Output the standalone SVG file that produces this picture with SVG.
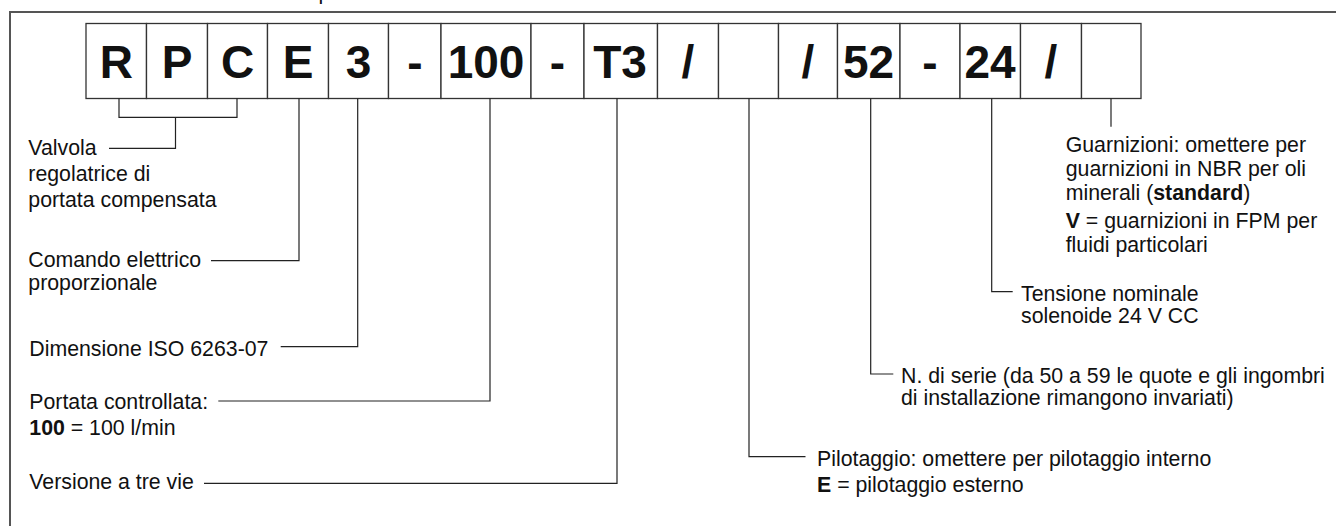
<svg xmlns="http://www.w3.org/2000/svg" width="1336" height="526" viewBox="0 0 1336 526">
<style>
.frame{fill:none;stroke:#555;stroke-width:2}
.cell{fill:#fff;stroke:#333;stroke-width:1.3}
.code{font-family:"Liberation Sans",Arial,sans-serif;font-weight:bold;font-size:46px;fill:#111;text-anchor:middle}
.lbl{font-family:"Liberation Sans",Arial,sans-serif;font-size:21.3px;fill:#111}
.b{font-weight:bold}
.conn{fill:none;stroke:#222;stroke-width:1.2}
</style>
<rect width="1336" height="526" fill="#fff"/>
<text class="lbl" x="318.5" y="-1">p</text>
<path class="frame" d="M10,530 V12 H1340"/>
<g id="code">
<g id="cell-R"><rect class="cell" x="86" y="23.5" width="60.5" height="75"/><text class="code" x="116.3" y="78">R</text></g>
<g id="cell-P"><rect class="cell" x="146.5" y="23.5" width="61" height="75"/><text class="code" x="177" y="78">P</text></g>
<g id="cell-C"><rect class="cell" x="207.5" y="23.5" width="60" height="75"/><text class="code" x="237.5" y="78">C</text></g>
<g id="cell-E"><rect class="cell" x="267.5" y="23.5" width="61" height="75"/><text class="code" x="298" y="78">E</text></g>
<g id="cell-3"><rect class="cell" x="328.5" y="23.5" width="60" height="75"/><text class="code" x="358.5" y="78">3</text></g>
<g id="cell-dash1"><rect class="cell" x="388.5" y="23.5" width="52.5" height="75"/><text class="code" x="415" y="78">-</text></g>
<g id="cell-100"><rect class="cell" x="441" y="23.5" width="90" height="75"/><text class="code" x="486" y="78">100</text></g>
<g id="cell-dash2"><rect class="cell" x="531" y="23.5" width="53" height="75"/><text class="code" x="557.5" y="78">-</text></g>
<g id="cell-T3"><rect class="cell" x="584" y="23.5" width="73.5" height="75"/><text class="code" x="620" y="78">T3</text></g>
<g id="cell-slash1"><rect class="cell" x="657.5" y="23.5" width="61" height="75"/><text class="code" x="688" y="78">/</text></g>
<g id="cell-pilot"><rect class="cell" x="718.5" y="23.5" width="60" height="75"/></g>
<g id="cell-slash2"><rect class="cell" x="778.5" y="23.5" width="59" height="75"/><text class="code" x="808" y="78">/</text></g>
<g id="cell-52"><rect class="cell" x="837.5" y="23.5" width="62.5" height="75"/><text class="code" x="868.5" y="78">52</text></g>
<g id="cell-dash3"><rect class="cell" x="900" y="23.5" width="60" height="75"/><text class="code" x="930" y="78">-</text></g>
<g id="cell-24"><rect class="cell" x="960" y="23.5" width="60.5" height="75"/><text class="code" x="990" y="78">24</text></g>
<g id="cell-slash3"><rect class="cell" x="1020.5" y="23.5" width="61" height="75"/><text class="code" x="1051" y="78">/</text></g>
<g id="cell-seal"><rect class="cell" x="1081.5" y="23.5" width="59.5" height="75"/></g>
</g>
<g id="connectors">
<path class="conn" d="M119,98.5 V117.3 H237 V98.5 M175.5,117.3 V148.3 H109"/>
<path class="conn" d="M299,98.5 V260.7 H211"/>
<path class="conn" d="M357.7,98.5 V346.7 H280.7"/>
<path class="conn" d="M490,98.5 V401 H218.3"/>
<path class="conn" d="M617,98.5 V483.3 H204"/>
<path class="conn" d="M749,98.5 V456.7 H805.5"/>
<path class="conn" d="M870.7,98.5 V374 H893.3"/>
<path class="conn" d="M991.7,98.5 V291.7 H1012.7"/>
<path class="conn" d="M1111,98.5 V126.7"/>
</g>
<g id="label-valvola"><text class="lbl" x="28.3" y="155">Valvola</text><text class="lbl" x="28.3" y="181">regolatrice di</text><text class="lbl" x="28.3" y="207.3">portata compensata</text></g>
<g id="label-comando"><text class="lbl" x="28.3" y="267.3">Comando elettrico</text><text class="lbl" x="28.3" y="290">proporzionale</text></g>
<g id="label-dimensione"><text class="lbl" x="29.3" y="356">Dimensione ISO 6263-07</text></g>
<g id="label-portata"><text class="lbl" x="29.3" y="409.3">Portata controllata:</text><text class="lbl" x="29.3" y="435"><tspan class="b">100</tspan> = 100 l/min</text></g>
<g id="label-versione"><text class="lbl" x="29.3" y="489.3">Versione a tre vie</text></g>
<g id="label-pilotaggio"><text class="lbl" x="817" y="465.7">Pilotaggio: omettere per pilotaggio interno</text><text class="lbl" x="817" y="492.3"><tspan class="b">E</tspan> = pilotaggio esterno</text></g>
<g id="label-serie"><text class="lbl" x="901" y="383.3">N. di serie (da 50 a 59 le quote e gli ingombri</text><text class="lbl" x="901" y="405">di installazione rimangono invariati)</text></g>
<g id="label-tensione"><text class="lbl" x="1021" y="301">Tensione nominale</text><text class="lbl" x="1021" y="323.3">solenoide 24 V CC</text></g>
<g id="label-guarnizioni"><text class="lbl" x="1065.7" y="152.3">Guarnizioni: omettere per</text><text class="lbl" x="1065.7" y="175.7">guarnizioni in NBR per oli</text><text class="lbl" x="1065.7" y="200">minerali (<tspan class="b">standard</tspan>)</text><text class="lbl" x="1065.7" y="228.3"><tspan class="b">V</tspan> = guarnizioni in FPM per</text><text class="lbl" x="1065.7" y="251.7">fluidi particolari</text></g>
</svg>
